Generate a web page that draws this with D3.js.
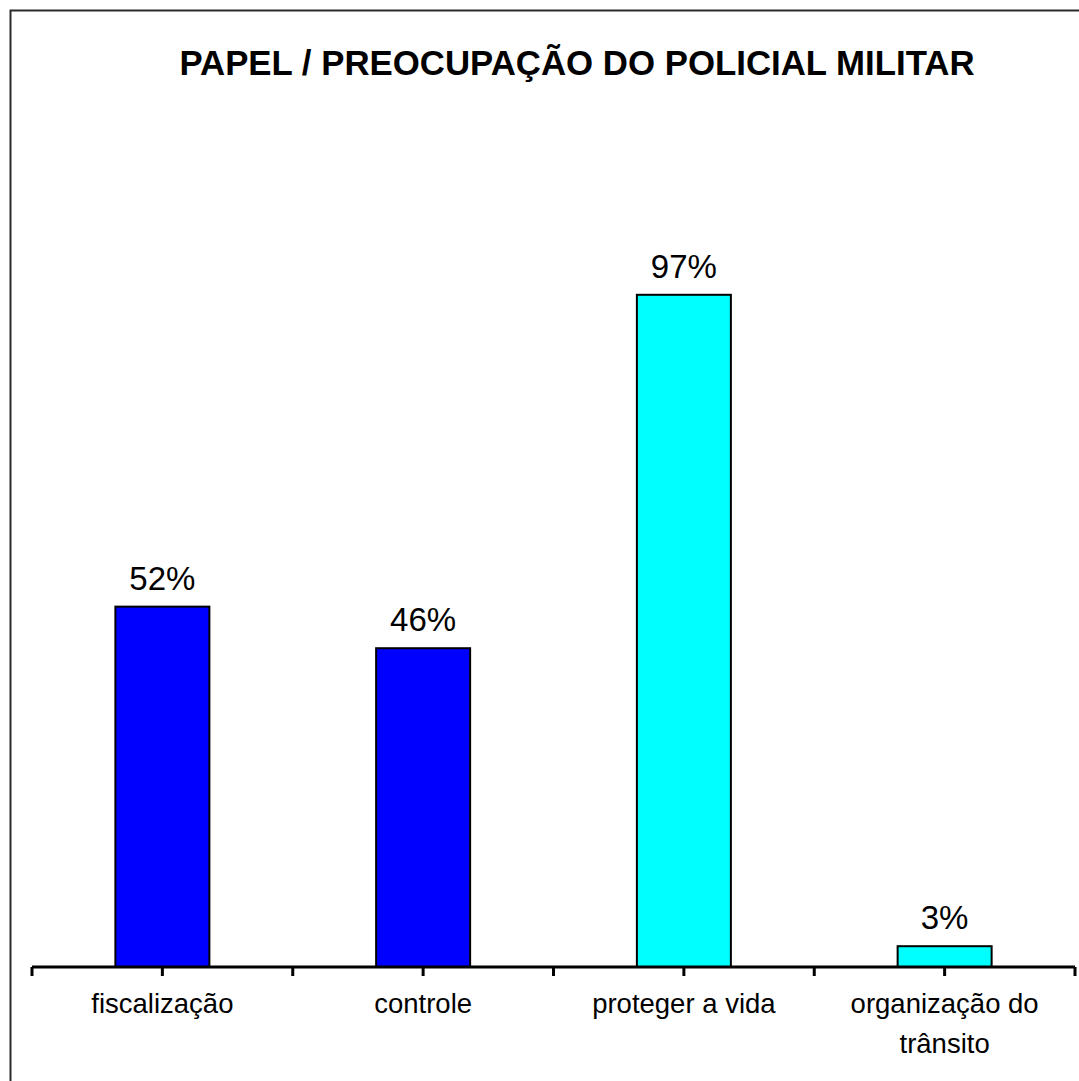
<!DOCTYPE html>
<html>
<head>
<meta charset="utf-8">
<script src="https://cdn.jsdelivr.net/npm/d3@7"></script>
<style>
  body { margin: 0; background: #fff; }
  text { font-family: "Liberation Sans", Arial, sans-serif; }
</style>
</head>
<body>
<svg width="1079" height="1081"></svg>
<script>
var categories = ["fiscalização", "controle", "proteger a vida", "organização do trânsito"];
var values = [52, 46, 97, 3];
var barColors = ["#0000ff", "#0000ff", "#00ffff", "#00ffff"];
var title = "PAPEL / PREOCUPAÇÃO DO POLICIAL MILITAR";

var svg = d3.select("svg"),
    width = +svg.attr("width"),
    height = +svg.attr("height");

// outer frame (runs off the right and bottom edges)
svg.append("rect")
    .attr("x", 10.5).attr("y", 10.5)
    .attr("width", 1200).attr("height", 1200)
    .attr("fill", "#fff")
    .attr("stroke", "#2a2a2a")
    .attr("stroke-width", 2);

svg.append("text")
    .attr("x", 577)
    .attr("y", 75)
    .attr("text-anchor", "middle")
    .style("font-size", "34.8px")
    .style("font-weight", "bold")
    .text(title);

var x = d3.scaleBand()
    .domain(categories)
    .range([32, 1075]);

var y = d3.scaleLinear()
    .domain([0, 100])
    .range([967, 274]);

var barW = 94;

svg.append("g")
  .selectAll("rect")
  .data(categories)
  .enter().append("rect")
    .attr("x", function(d) { return x(d) + x.bandwidth() / 2 - barW / 2; })
    .attr("y", function(d, i) { return y(values[i]); })
    .attr("width", barW)
    .attr("height", function(d, i) { return y(0) - y(values[i]); })
    .attr("fill", function(d, i) { return barColors[i]; })
    .attr("stroke", "#000")
    .attr("stroke-width", 2);

svg.append("g")
  .selectAll("text")
  .data(categories)
  .enter().append("text")
    .attr("x", function(d) { return x(d) + x.bandwidth() / 2; })
    .attr("y", function(d, i) { return y(values[i]) - 17; })
    .attr("text-anchor", "middle")
    .style("font-size", "33px")
    .text(function(d, i) { return values[i] + "%"; });

// axis line + ticks at category borders and centres
var axis = svg.append("g");
axis.append("line")
    .attr("x1", 32).attr("x2", 1075)
    .attr("y1", y(0)).attr("y2", y(0))
    .attr("stroke", "#000")
    .attr("stroke-width", 3);

var tickXs = categories.map(function(d) { return x(d); }).concat([x.range()[1]])
    .concat(categories.map(function(d) { return x(d) + x.bandwidth() / 2; }));

axis.selectAll("line.tick")
  .data(tickXs)
  .enter().append("line")
    .attr("class", "tick")
    .attr("x1", function(d) { return d; })
    .attr("x2", function(d) { return d; })
    .attr("y1", y(0))
    .attr("y2", y(0) + 9)
    .attr("stroke", "#000")
    .attr("stroke-width", 3);

// category labels, wrapped like the original
var labels = svg.append("g")
  .selectAll("text")
  .data(categories)
  .enter().append("text")
    .attr("x", function(d) { return x(d) + x.bandwidth() / 2; })
    .attr("y", 1013)
    .attr("text-anchor", "middle")
    .style("font-size", "27.5px");

labels.each(function(d) {
  var t = d3.select(this),
      words = d.split(" "),
      line = [],
      tspan = t.append("tspan").attr("x", t.attr("x")).attr("dy", 0);
  words.forEach(function(w) {
    line.push(w);
    tspan.text(line.join(" "));
    if (tspan.node().getComputedTextLength() > 210 && line.length > 1) {
      line.pop();
      tspan.text(line.join(" "));
      line = [w];
      tspan = t.append("tspan").attr("x", t.attr("x")).attr("dy", 40).text(w);
    }
  });
});
</script>
</body>
</html>
